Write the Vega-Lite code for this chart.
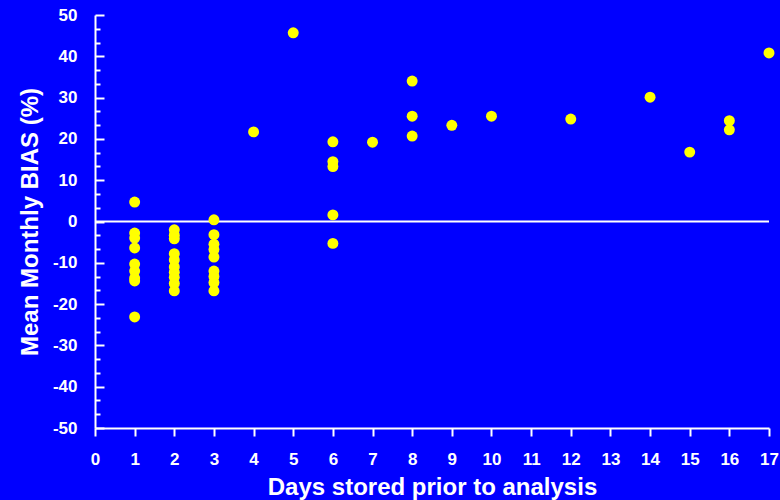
{
  "$schema": "https://vega.github.io/schema/vega-lite/v6.json",
  "width": 674,
  "height": 413,
  "autosize": {"type": "none"},
  "padding": {"left": 95, "top": 15, "right": 11, "bottom": 72},
  "background": "#0000FF",
  "config": {
    "view": {"stroke": null},
    "axis": {
      "grid": false,
      "labelFont": "Liberation Sans",
      "labelFontWeight": "bold",
      "labelFontSize": 17,
      "labelColor": "#FFFFFF",
      "labelFlush": false,
      "titleFont": "Liberation Sans",
      "titleFontWeight": "bold",
      "titleFontSize": 24,
      "titleColor": "#FFFFFF",
      "domainColor": "#FFFFFF",
      "domainWidth": 2,
      "tickColor": "#FFFFFF",
      "tickWidth": 2
    }
  },
  "datasets": {
    "pts": [
      {"days": 1, "bias": 4.7}, {"days": 1, "bias": -2.8}, {"days": 1, "bias": -4.0}, {"days": 1, "bias": -6.4},
      {"days": 1, "bias": -10.3}, {"days": 1, "bias": -12.0}, {"days": 1, "bias": -13.7}, {"days": 1, "bias": -14.4},
      {"days": 1, "bias": -23.1},
      {"days": 2, "bias": -2.0}, {"days": 2, "bias": -3.3}, {"days": 2, "bias": -4.2}, {"days": 2, "bias": -7.8},
      {"days": 2, "bias": -9.3}, {"days": 2, "bias": -11.0}, {"days": 2, "bias": -12.3}, {"days": 2, "bias": -13.5},
      {"days": 2, "bias": -15.0}, {"days": 2, "bias": -16.8},
      {"days": 3, "bias": 0.4}, {"days": 3, "bias": -3.2}, {"days": 3, "bias": -5.5}, {"days": 3, "bias": -6.8},
      {"days": 3, "bias": -8.6}, {"days": 3, "bias": -12.0}, {"days": 3, "bias": -13.3}, {"days": 3, "bias": -14.8},
      {"days": 3, "bias": -16.8},
      {"days": 4, "bias": 21.7},
      {"days": 5, "bias": 45.7},
      {"days": 6, "bias": 19.3}, {"days": 6, "bias": 14.5}, {"days": 6, "bias": 13.3}, {"days": 6, "bias": 1.6}, {"days": 6, "bias": -5.3},
      {"days": 7, "bias": 19.2},
      {"days": 8, "bias": 34.0}, {"days": 8, "bias": 25.5}, {"days": 8, "bias": 20.7},
      {"days": 9, "bias": 23.3},
      {"days": 10, "bias": 25.5},
      {"days": 12, "bias": 24.8},
      {"days": 14, "bias": 30.1},
      {"days": 15, "bias": 16.8},
      {"days": 16, "bias": 24.4}, {"days": 16, "bias": 22.2},
      {"days": 17, "bias": 40.8}
    ]
  },
  "resolve": {"axis": {"y": "independent"}},
  "layer": [
    {
      "data": {"values": [{"zero": 0}]},
      "mark": {"type": "rule", "color": "#FFFFFF", "strokeWidth": 2},
      "encoding": {
        "y": {
          "field": "zero", "type": "quantitative",
          "scale": {"domain": [-50, 50], "nice": false, "zero": false},
          "axis": {
            "orient": "left",
            "title": null,
            "labels": false,
            "domain": false,
            "tickSize": -5,
            "values": [-46.667, -43.333, -36.667, -33.333, -26.667, -23.333, -16.667, -13.333, -6.667, -3.333, 3.333, 6.667, 13.333, 16.667, 23.333, 26.667, 33.333, 36.667, 43.333, 46.667]
          }
        }
      }
    },
    {
      "data": {"name": "pts"},
      "mark": {"type": "circle", "color": "#FFFF00", "opacity": 1, "size": 120},
      "encoding": {
        "x": {
          "field": "days", "type": "quantitative",
          "scale": {"domain": [0, 17], "nice": false, "zero": false},
          "axis": {
            "title": "Days stored prior to analysis",
            "values": [0, 1, 2, 3, 4, 5, 6, 7, 8, 9, 10, 11, 12, 13, 14, 15, 16, 17],
            "tickSize": 8,
            "labelPadding": 15,
            "titlePadding": 8
          }
        },
        "y": {
          "field": "bias", "type": "quantitative",
          "scale": {"domain": [-50, 50], "nice": false, "zero": false},
          "axis": {
            "orient": "left",
            "title": "Mean Monthly BIAS (%)",
            "values": [-50, -40, -30, -20, -10, 0, 10, 20, 30, 40, 50],
            "labelExpr": "toString(datum.value)",
            "tickSize": -9,
            "labelPadding": 27,
            "titlePadding": 10
          }
        }
      }
    }
  ]
}
